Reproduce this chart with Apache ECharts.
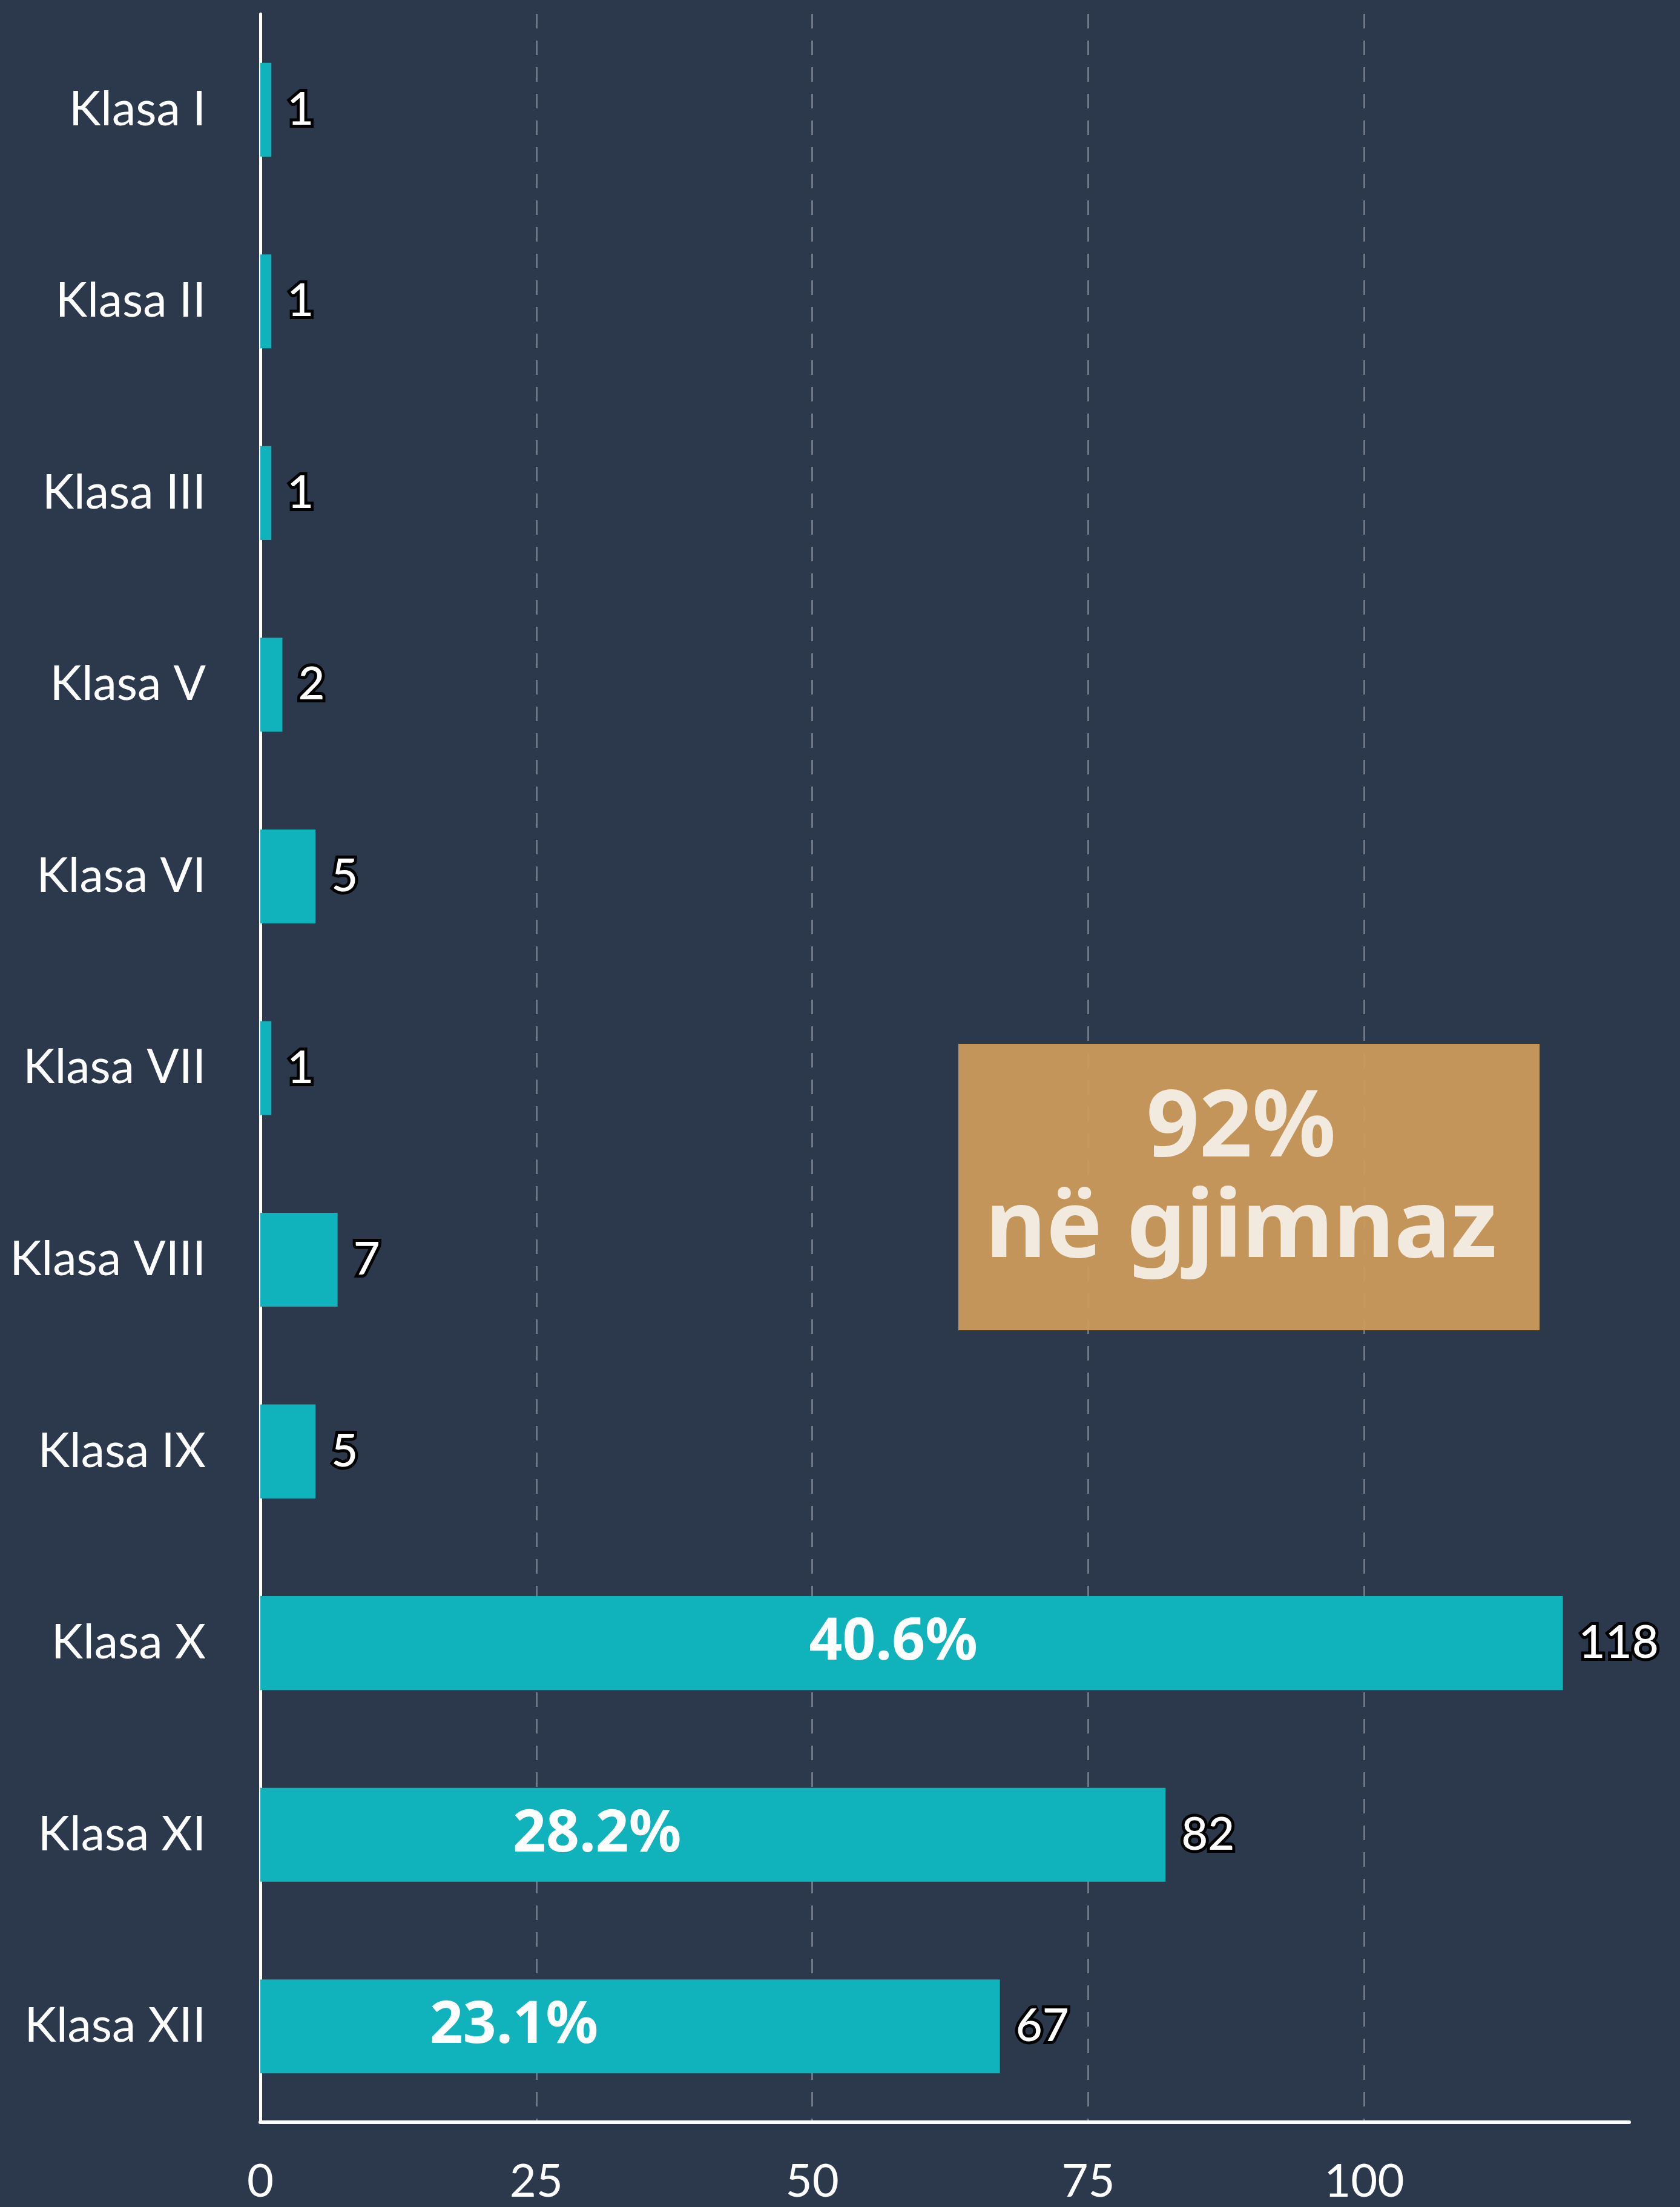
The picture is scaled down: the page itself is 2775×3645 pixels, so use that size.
<!DOCTYPE html>
<html>
<head>
<meta charset="utf-8">
<script src="https://cdn.jsdelivr.net/npm/echarts@6/dist/echarts.min.js"></script>
<style>
    html, body { margin: 0; padding: 0; background: #2c394d; }
    #main { width: 2775px; height: 3645px; }
</style>
</head>
<body>
<div id="main"></div>
<script>
const categories = ['Klasa I', 'Klasa II', 'Klasa III', 'Klasa V', 'Klasa VI', 'Klasa VII',
    'Klasa VIII', 'Klasa IX', 'Klasa X', 'Klasa XI', 'Klasa XII'];
const values = [1, 1, 1, 2, 5, 1, 7, 5, 118, 82, 67];
const shares = ['', '', '', '', '', '', '', '', '40.6%', '28.2%', '23.1%'];
const xTicks = [0, 25, 50, 75, 100];

// where the share text sits along each bar (fraction of bar length)
const shareAt = { 8: '48.6%', 9: '37.2%', 10: '34.3%' };

const font = 'Lato, "Open Sans", sans-serif';
const boldFont = '"Noto Sans", Lato, sans-serif';

let myChart = echarts.init(document.getElementById('main'));

let option = {
    backgroundColor: '#2c394d',
    animation: false,
    grid: { left: 430, right: 84, top: 23, bottom: 140, containLabel: false },
    xAxis: {
        type: 'value',
        min: xTicks[0],
        max: 124,
        interval: 25,
        axisLine: { show: true, lineStyle: { color: '#ffffff', width: 6 } },
        axisTick: { show: false },
        axisLabel: {
            color: '#ffffff', fontSize: 76, fontFamily: font, margin: 60,
            showMaxLabel: false
        },
        splitLine: {
            show: true,
            showMinLine: false,
            showMaxLine: false,
            lineStyle: { color: '#6d7788', width: 3, type: [24, 20] }
        }
    },
    yAxis: {
        type: 'category',
        data: categories,
        inverse: true,
        axisLine: { show: true, lineStyle: { color: '#ffffff', width: 5 } },
        axisTick: { show: false },
        axisLabel: {
            color: '#ffffff', fontSize: 79, fontFamily: font, margin: 90,
            padding: [16, 0, 0, 0]
        }
    },
    series: [
        {
            type: 'bar',
            data: values,
            barWidth: '49%',
            itemStyle: { color: '#10b3bc' },
            label: {
                show: true,
                position: 'right',
                distance: 26,
                color: '#ffffff',
                fontSize: 76,
                fontWeight: 500,
                fontFamily: font,
                textBorderColor: '#000000',
                textBorderWidth: 10,
                padding: [16, 0, 0, 0]
            },
            z: 2
        },
        {
            type: 'bar',
            silent: true,
            barGap: '-100%',
            barWidth: '49%',
            data: values.map((v, i) => ({
                value: v,
                label: {
                    show: shares[i] !== '',
                    position: [shareAt[i] || '50%', '50%']
                }
            })),
            itemStyle: { color: 'rgba(0,0,0,0)' },
            label: {
                formatter: p => shares[p.dataIndex],
                align: 'center',
                verticalAlign: 'middle',
                color: '#ffffff',
                fontSize: 96,
                fontWeight: 'bold',
                fontFamily: boldFont
            },
            z: 3
        }
    ],
    graphic: [
        {
            type: 'rect',
            shape: { x: 1583, y: 1724, width: 960, height: 473 },
            style: { fill: 'rgba(207,156,91,0.93)' },
            z: 10
        },
        {
            type: 'text',
            x: 2050,
            y: 1866,
            style: {
                text: '92%',
                fill: '#f3eadf',
                font: 'bold 153px ' + boldFont,
                align: 'center',
                verticalAlign: 'middle'
            },
            z: 11
        },
        {
            type: 'text',
            x: 2050,
            y: 2032,
            style: {
                text: 'në gjimnaz',
                fill: '#f3eadf',
                font: 'bold 155px ' + boldFont,
                align: 'center',
                verticalAlign: 'middle'
            },
            z: 11
        }
    ]
};

myChart.setOption(option);
</script>
</body>
</html>
